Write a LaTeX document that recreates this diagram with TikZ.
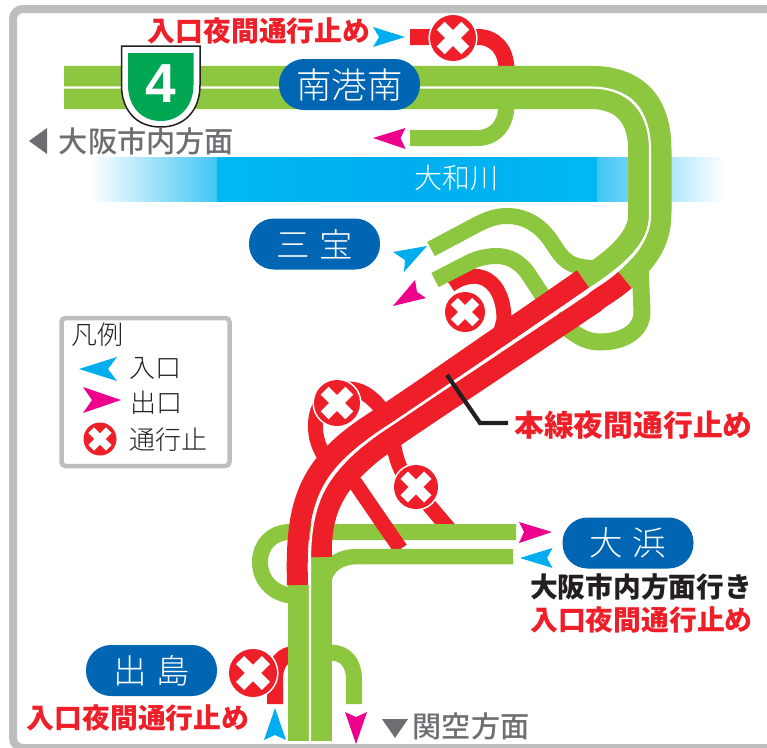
\documentclass[tikz,border=0pt]{standalone}
\usepackage{fontspec}
\setmainfont{Noto Sans CJK JP}
\newfontfamily\jplight{Noto Sans CJK JP Light}
\newfontfamily\jpmed{Noto Sans CJK JP Medium}
\newfontfamily\jpbold{Noto Sans CJK JP Bold}
\newfontfamily\jpblack{Noto Sans CJK JP Black}
\newfontfamily\numfont{Liberation Sans}
\definecolor{rdgreen}{HTML}{8DC63F}
\definecolor{rdred}{HTML}{EE1F28}
\definecolor{skyb}{HTML}{00AEEF}
\definecolor{skyl}{HTML}{00B9F2}
\definecolor{skyf}{HTML}{40C5F5}
\definecolor{pinkm}{HTML}{EC008C}
\definecolor{frameg}{HTML}{BCBEC0}
\definecolor{textg}{HTML}{6D6E71}
\definecolor{pillb}{HTML}{0066B3}
\definecolor{shieldg}{HTML}{00A651}
\definecolor{inkk}{HTML}{231F20}
\newcommand{\xsign}[3]{%
  \begin{scope}[shift={(#1,#2)}]
    \fill[white] (0,0) circle ({#3+1.6});
    \fill[rdred] (0,0) circle (#3);
    \begin{scope}[rotate=45]
      \fill[white] ({-0.76*#3},{-0.24*#3}) rectangle ({0.76*#3},{0.24*#3});
      \fill[white] ({-0.24*#3},{-0.76*#3}) rectangle ({0.24*#3},{0.76*#3});
    \end{scope}
  \end{scope}}
\tikzset{
  carriage/.style={line width=21pt,line cap=butt},
  ramp/.style={line width=16pt,line cap=butt},
  greenroad/.style={draw=rdgreen},
  redroad/.style={draw=rdred},
  centerline/.style={draw=white,line width=2.1pt},
  pill/.style={fill=pillb,rounded corners=25pt,text=white,minimum height=51pt,inner sep=0pt},
  redtext/.style={text=rdred,inner sep=0pt,font=\jpblack\fontsize{27.8}{27.8}\selectfont},
  legendtext/.style={text=inkk,inner sep=0pt,font=\jplight\fontsize{26}{26}\selectfont},
  grayhead/.style={text=textg,inner sep=0pt,font=\jpmed\fontsize{29.2}{29.2}\selectfont},
}
\begin{document}
\begin{tikzpicture}[x=1pt,y=-1pt,line join=miter]
\useasboundingbox (0,0) rectangle (767,747);
\clip (0,0) rectangle (767,747);
% frame
\draw[frameg,line width=8pt,rounded corners=10pt] (775,9) -- (13,9) -- (13,748) -- (775,748);
% river
\shade[left color=white,right color=skyf] (90,157) rectangle (218,201);
\shade[left color=skyl,right color=skyl,middle color=skyb] (217.5,157) rectangle (597.5,201);
\shade[left color=skyf,right color=white] (597,157) rectangle (724,201);
\node[text=white,inner sep=0pt,font=\jplight\fontsize{28}{28}\selectfont] (yamato) at (456,178) {大和川};
% red ramps beneath everything
\draw[redroad,ramp] (410,37) -- (478,37) .. controls (495,37) and (506.5,50) .. (506.5,70);
\draw[redroad,ramp,line width=15pt] (450,285) .. controls (478,265) and (504,280) .. (504,320) -- (497,345);
\draw[redroad,ramp,line width=15pt] (326,458) .. controls (308,435) and (312,392) .. (345,389) .. controls (362,388) and (375,398) .. (387,417);
\draw[redroad,ramp,line width=15pt] (393,440) .. controls (396,465) and (405,480) .. (416,490) -- (450,530);
\draw[redroad,ramp] (275,704) -- (275,680) .. controls (275,662) and (283,654) .. (295,654);
% green ramps
\draw[greenroad,ramp] (410,138) -- (477,138) .. controls (495,138) and (506.5,125) .. (506.5,104);
\draw[greenroad,ramp] (431,249) -- (478,224) .. controls (490,218) and (498,216) .. (507,216) .. controls (528,216) and (543,228) .. (553,244) .. controls (562,258) and (568,268) .. (595,268);
\draw[greenroad,ramp] (435,280) -- (472,261) .. controls (482,257) and (490,256) .. (497,256) .. controls (510,256) and (520,263) .. (527,272) -- (552,310);
\draw[greenroad,ramp,line width=17pt] (640,265) -- (642,312) .. controls (642,332) and (622,342) .. (600,342) .. controls (585,342) and (575,335) .. (555,318);
\draw[greenroad,ramp] (516,532) -- (290,532) .. controls (272,532) and (260,545) .. (260,562) .. controls (260,582) and (275,595) .. (295,596);
\draw[redroad,ramp,line width=15pt] (354.5,482) -- (400.5,549);
\draw[greenroad,ramp,line width=15.5pt] (513,556.5) -- (358,556.5) .. controls (335,556.5) and (322,570) .. (322,592);
\draw[greenroad,ramp] (322,652.5) -- (330,652.5) .. controls (345,652.5) and (354,662) .. (354,680) -- (354,704);
% main road: green
\draw[greenroad,carriage] (64,76.3) -- (590,76.3) .. controls (640,76.3) and (661,105) .. (661,150) -- (661,212) .. controls (661,245) and (645,262) .. (625,280);
\draw[greenroad,carriage] (64,98.5) -- (590,98.5) .. controls (625,98.5) and (638.7,120) .. (638.7,150) -- (638.7,215) .. controls (638.7,240) and (610,262) .. (583,279);
\draw[greenroad,carriage] (298,585) -- (298,740.5);
\draw[greenroad,carriage] (321,557) -- (321,740.5);
% main road: red
\draw[redroad,carriage] (583,279) -- (421,391) -- (384,416) .. controls (308,462) and (295,500) .. (297.5,585);
\draw[redroad,carriage] (625,280) .. controls (610,293) and (600,297) .. (594,303) -- (434,410) -- (397,435) .. controls (333,476) and (320,512) .. (321.5,557);
% centre line
\draw[centerline] (64,87.5) -- (590,87.5) .. controls (630,87.5) and (650,112) .. (650,150) -- (650,215) .. controls (650,245) and (625,265) .. (587,291) -- (427,400) -- (390,425) .. controls (322,468) and (309,505) .. (310,570) -- (310,741);
% X signs
\xsign{453}{38}{23}
\xsign{465}{312}{20}
\xsign{337}{403}{23}
\xsign{416}{487}{22}
\xsign{253}{673}{24}
% arrows
\fill[skyb] (405,37) -- (373,27) -- (379,37) -- (373,47) -- cycle;
\fill[pinkm] (373,138) -- (405.5,128) -- (400.5,138) -- (405.5,149) -- cycle;
\fill[skyb] (427,246) -- (393,252) -- (405,260) -- (404,272) -- cycle;
\fill[pinkm] (393,306) -- (415,280) -- (417,292) -- (426,298) -- cycle;
\fill[pinkm] (552,532) -- (519,522) -- (524,532) -- (519,543) -- cycle;
\fill[skyb] (520,558) -- (552.5,548) -- (547,558) -- (552.5,568) -- cycle;
\fill[skyb] (275,708) -- (264,740) -- (275,735) -- (286,740) -- cycle;
\fill[pinkm] (356,744) -- (345,712) -- (356,717) -- (367,712) -- cycle;
\fill[textg] (382,719) -- (408,719) -- (395,738) -- cycle;
\fill[textg] (29,141) -- (47,128) -- (47,154) -- cycle;
% shield
\draw[inkk,fill=white,line width=1.5pt] (121.5,46) -- (200,46) -- (200,85) .. controls (200,110) and (185,127) .. (160.7,127) .. controls (136,127) and (121.5,110) .. (121.5,85) -- cycle;
\fill[shieldg] (128,53) -- (193.5,53) -- (193.5,85) .. controls (193.5,106) and (180,121) .. (160.7,121) .. controls (141,121) and (128,106) .. (128,85) -- cycle;
\node[text=white,inner sep=0pt,font=\numfont\bfseries\fontsize{55}{55}\selectfont] (routeno) at (160.5,84) {4};
% pills
\node[pill,minimum width=141pt] (minami) at (349.5,84.5) {\jplight\fontsize{35.5}{35.5}\selectfont 南港南};
\node[pill,minimum width=131pt] (sanpo) at (314.5,244) {\jplight\fontsize{33.5}{33.5}\selectfont 三\hspace{10pt}宝};
\node[pill,minimum width=131pt] (ohama) at (628,543) {\jplight\fontsize{33.5}{33.5}\selectfont 大\hspace{10pt}浜};
\node[pill,minimum width=131pt] (dejima) at (151.5,670.5) {\jplight\fontsize{33.5}{33.5}\selectfont 出\hspace{10pt}島};
% texts
\node[redtext] (t1) at (259,31) {入口夜間通行止め};
\node[redtext] (t2) at (138,718) {入口夜間通行止め};
\node[redtext] (t3) at (641.5,620) {入口夜間通行止め};
\node[inner sep=0pt,text=inkk,font=\jpblack\fontsize{27.7}{27.7}\selectfont] (t4) at (641,587) {大阪市内方面行き};
\node[redtext,font=\jpblack\fontsize{29.8}{29.8}\selectfont,inner xsep=6pt] (mainclosed) at (633.5,425) {本線夜間通行止め};
\node[grayhead] (osaka) at (146.5,141) {大阪市内方面};
\node[grayhead] (kanku) at (471,726) {関空方面};
% leader
\coordinate (leadstart) at (447,375);
\coordinate (leadbend) at (480,423);
\draw[inkk,line width=4.2pt] (leadstart) -- (leadbend) -- (leadbend -| mainclosed.west);
% legend
\draw[frameg,line width=4.5pt,rounded corners=4pt,fill=white] (61.5,318) rectangle (229.5,466);
\node[legendtext] (lg0) at (97,335) {凡例};
\fill[skyb] (79,369) -- (117,357) -- (108,369) -- (117,381) -- cycle;
\node[legendtext] (lg1) at (155,368) {入口};
\fill[pinkm] (121,400) -- (83,387) -- (92,400) -- (83,413) -- cycle;
\node[legendtext] (lg2) at (156,403) {出口};
\xsign{100}{439}{16.5}
\node[legendtext] (lg3) at (168,440) {通行止};
\end{tikzpicture}
\end{document}
